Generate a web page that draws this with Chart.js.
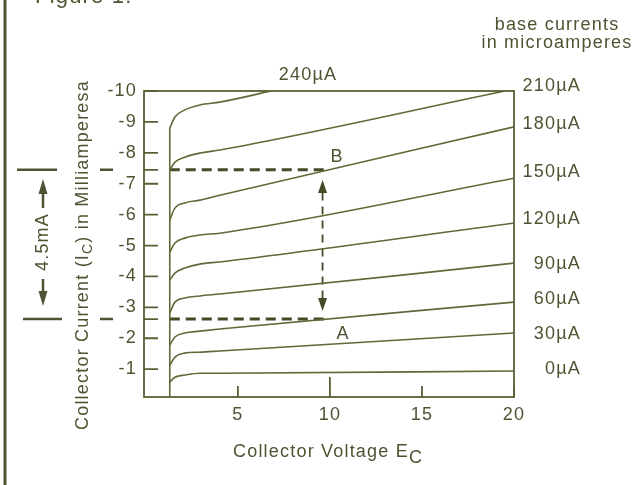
<!DOCTYPE html>
<html>
<head>
<meta charset="utf-8">
<script src="https://cdn.jsdelivr.net/npm/chart.js@4"></script>
<style>
  html, body { margin: 0; padding: 0; background: #fff; }
</style>
</head>
<body>
<canvas id="chart" width="636" height="485"></canvas>
<script>
// collector voltage (V) where each curve was read
const vce = [1.3, 1.58, 2.12, 2.93, 4.02, 20];
const vce210 = [1.3, 1.58, 2.12, 2.93, 4.02, 19.5];
const vce240 = [1.3, 1.58, 2.12, 2.93, 4.02, 6.8];

// collector current (mA), one list per base current
const ic0 = [-0.58, -0.74, -0.81, -0.87, -0.87, -0.94];
const ic30 = [-1.13, -1.39, -1.52, -1.55, -1.59, -2.17];
const ic60 = [-1.78, -2.04, -2.17, -2.23, -2.30, -3.17];
const ic90 = [-2.82, -3.17, -3.30, -3.37, -3.43, -4.43];
const ic120 = [-3.88, -4.11, -4.27, -4.40, -4.47, -5.73];
const ic150 = [-4.79, -5.08, -5.24, -5.34, -5.40, -7.18];
const ic180 = [-5.83, -6.21, -6.38, -6.47, -6.63, -8.84];
const ic210 = [-7.44, -7.70, -7.86, -7.99, -8.09, -10];
const ic240 = [-8.80, -9.16, -9.39, -9.55, -9.64, -10];

const baseLabels = ['0\u00b5A', '30\u00b5A', '60\u00b5A', '90\u00b5A', '120\u00b5A', '150\u00b5A', '180\u00b5A', '210\u00b5A'];
const xTicks = [5, 10, 15, 20];
const yTicks = [-10, -9, -8, -7, -6, -5, -4, -3, -2, -1];

// operating points A and B (mA) and the voltage they are read at
const icA = -2.62;
const icB = -7.45;
const vOp = 9.85;
const vArrow = 9.6;

const ink = '#4e5432';
const curveInk = '#5f6a36';
const dashInk = '#444a26';

const pts = (xs, ys) => xs.map((v, i) => ({ x: v, y: ys[i] }));

const curve = (xs, ys) => ({
    data: pts(xs, ys),
    borderColor: curveInk,
    borderWidth: 1.6,
    pointRadius: 0,
    showLine: true,
    cubicInterpolationMode: 'monotone'
});

const straight = (xs, ys, extra) => Object.assign({
    data: pts(xs, ys),
    borderColor: curveInk,
    borderWidth: 1.6,
    pointRadius: 0,
    showLine: true,
    tension: 0
}, extra);

// texto con subíndice
const subText = (ctx, parts, x, y, subFont, shift) => {
    let cx = x;
    parts.forEach(([txt, sub]) => {
        ctx.save();
        if (sub) ctx.font = subFont;
        ctx.fillText(txt, cx, sub ? y + shift : y);
        cx += ctx.measureText(txt).width;
        ctx.restore();
    });
};

const decor = {
    id: 'decor',
    beforeDraw(chart) {
        chart.ctx.letterSpacing = '1.2px';
    },
    afterDatasetsDraw(chart) {
        const { ctx, chartArea: a, scales: { x, y } } = chart;
        ctx.save();
        ctx.strokeStyle = '#596034';
        ctx.lineWidth = 1.8;
        ctx.strokeRect(a.left, a.top, a.right - a.left, a.bottom - a.top);

        // marcas interiores
        ctx.beginPath();
        yTicks.concat([icA, icB]).forEach(v => {
            const py = y.getPixelForValue(v);
            ctx.moveTo(a.left, py);
            ctx.lineTo(a.left + 14, py);
        });
        xTicks.forEach(v => {
            const px = x.getPixelForValue(v);
            const len = v === 10 ? 20 : 11;
            ctx.moveTo(px, a.bottom);
            ctx.lineTo(px, a.bottom - len);
        });
        ctx.stroke();

        // puntas de flecha en la línea vertical
        const ax = x.getPixelForValue(vArrow);
        const head = (tip, dir) => {
            ctx.beginPath();
            ctx.moveTo(ax, tip);
            ctx.lineTo(ax - 4.5, tip + dir * 13);
            ctx.lineTo(ax + 4.5, tip + dir * 13);
            ctx.closePath();
            ctx.fill();
        };
        ctx.fillStyle = dashInk;
        head(y.getPixelForValue(-7.12), 1);
        head(y.getPixelForValue(-2.88), -1);
        ctx.restore();
    },
    afterDraw(chart) {
        const { ctx, scales: { y } } = chart;
        const pyA = y.getPixelForValue(icA);
        const pyB = y.getPixelForValue(icB);
        ctx.save();
        ctx.letterSpacing = '1.2px';
        ctx.fillStyle = ink;
        ctx.strokeStyle = ink;

        // borde de la página
        ctx.lineWidth = 3;
        ctx.beginPath();
        ctx.moveTo(5, 0);
        ctx.lineTo(5, 485);
        ctx.stroke();

        ctx.font = '22px "Liberation Sans", Arial, sans-serif';
        ctx.textAlign = 'left';
        ctx.textBaseline = 'alphabetic';
        ctx.fillText('Figure 1.', 35, 3);

        // cota de 4.5mA
        ctx.lineWidth = 2.5;
        ctx.beginPath();
        ctx.moveTo(17, pyB); ctx.lineTo(57, pyB);
        ctx.moveTo(23, pyA); ctx.lineTo(62, pyA);
        ctx.moveTo(100, pyB); ctx.lineTo(113, pyB);
        ctx.moveTo(100, pyA); ctx.lineTo(113, pyA);
        ctx.moveTo(43, 193); ctx.lineTo(43, 208);
        ctx.moveTo(43, 279); ctx.lineTo(43, 292);
        ctx.stroke();
        ctx.beginPath();
        ctx.moveTo(43, 179); ctx.lineTo(38.5, 194); ctx.lineTo(47.5, 194); ctx.closePath();
        ctx.moveTo(43, 306); ctx.lineTo(38.5, 291); ctx.lineTo(47.5, 291); ctx.closePath();
        ctx.fill();

        ctx.font = '18px "Liberation Sans", Arial, sans-serif';
        ctx.save();
        ctx.translate(43, 242);
        ctx.rotate(-Math.PI / 2);
        ctx.textAlign = 'center';
        ctx.textBaseline = 'middle';
        ctx.fillText('4.5mA', 0, 0);
        ctx.restore();

        // título del eje y
        ctx.save();
        ctx.translate(88, 430);
        ctx.rotate(-Math.PI / 2);
        ctx.textAlign = 'left';
        subText(ctx, [['Collector Current (I'], ['C', true], [') in Milliamperesa']], 0, 0,
            '14px "Liberation Sans", Arial, sans-serif', 4);
        ctx.restore();

        // título del eje x
        subText(ctx, [['Collector Voltage E'], ['C', true]], 233, 457,
            '18px "Liberation Sans", Arial, sans-serif', 6);

        ctx.textAlign = 'center';
        ctx.fillText('base currents', 557, 30);
        ctx.fillText('in microamperes', 557, 48);
        ctx.textBaseline = 'middle';
        ctx.fillText('240\u00b5A', 308, 75);
        ctx.fillText('B', 337, 157);
        ctx.fillText('A', 343, 334);

        // etiquetas de corriente de base a la derecha
        const labelAt = [-1.01, -2.14, -3.28, -4.41, -5.87, -7.39, -8.94, -10.17];
        ctx.textAlign = 'right';
        baseLabels.forEach((t, i) => ctx.fillText(t, 581, y.getPixelForValue(labelAt[i])));
        ctx.restore();
    }
};

new Chart(document.getElementById('chart'), {
    type: 'scatter',
    data: {
        datasets: [
            straight([1.3, 1.3], [-0.1, -8.8]),
            curve(vce, ic0),
            curve(vce, ic30),
            curve(vce, ic60),
            curve(vce, ic90),
            curve(vce, ic120),
            curve(vce, ic150),
            curve(vce, ic180),
            curve(vce210, ic210),
            curve(vce240, ic240),
            straight([1.3, vOp], [icB, icB], { borderColor: dashInk, borderWidth: 3, borderDash: [10, 6] }),
            straight([1.3, vOp], [icA, icA], { borderColor: dashInk, borderWidth: 3, borderDash: [10, 6] }),
            straight([vArrow, vArrow], [-6.72, -3.28], { borderColor: dashInk, borderWidth: 1.8, borderDash: [8, 6] })
        ]
    },
    options: {
        responsive: false,
        animation: false,
        events: [],
        layout: { padding: { top: 91, right: 122, left: 0, bottom: 0 } },
        plugins: { legend: { display: false }, tooltip: { enabled: false } },
        scales: {
            x: {
                type: 'linear',
                min: -0.1,
                max: 20,
                afterFit: s => { s.height = 88; },
                afterBuildTicks: s => { s.ticks = xTicks.map(v => ({ value: v })); },
                grid: { display: false, drawTicks: false },
                border: { display: false },
                ticks: { padding: 7, color: ink, font: { family: '"Liberation Sans", Arial, sans-serif', size: 18 } }
            },
            y: {
                type: 'linear',
                reverse: true,
                min: -10,
                max: -0.1,
                afterFit: s => { s.width = 144; },
                afterBuildTicks: s => { s.ticks = yTicks.map(v => ({ value: v })); },
                grid: { display: false, drawTicks: false },
                border: { display: false },
                ticks: { padding: 7, color: ink, font: { family: '"Liberation Sans", Arial, sans-serif', size: 18 } }
            }
        }
    },
    plugins: [decor]
});
</script>
</body>
</html>
